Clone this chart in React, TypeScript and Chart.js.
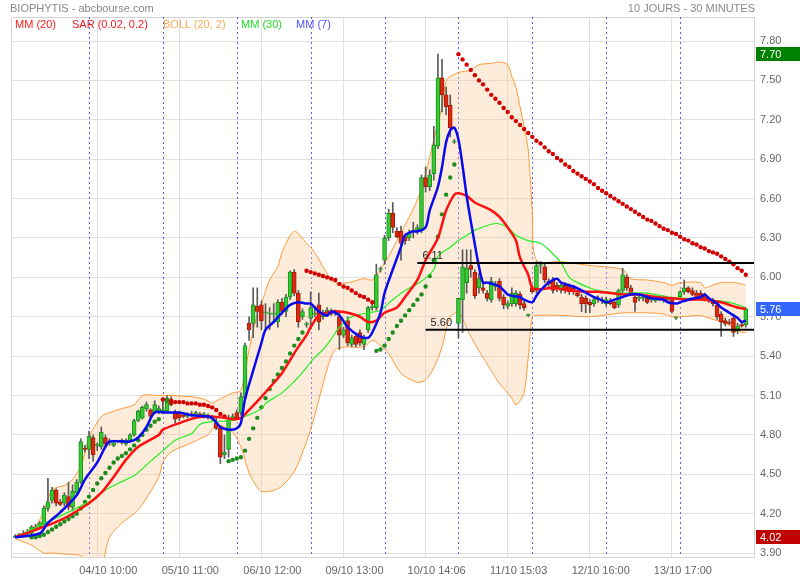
import React, { useEffect, useRef } from 'react';
import { Chart, registerables } from 'chart.js';

Chart.register(...registerables);

const FONT = '"Liberation Sans", Arial, sans-serif';

// ---- candles (bar index = position in arrays, 18 half-hour slots per day) ----
const opens = [
  4.02,4.03,4.04,4.05,4.05,4.10,4.10,4.12,4.24,4.30,4.38,4.29,4.28,4.33,4.25,4.36,4.44,4.70,
  4.69,4.78,4.72,4.71,4.78,4.74,4.72,4.75,4.74,4.73,4.76,4.80,4.91,4.93,5.00,4.99,4.97,4.98,
  4.97,4.98,5.05,4.97,4.97,4.95,4.94,4.95,4.96,4.96,4.95,4.95,4.92,4.89,4.85,4.65,4.69,4.93,
  4.97,4.97,5.08,5.65,5.65,5.78,5.79,5.73,5.72,5.72,5.66,5.81,5.74,5.85,6.04,5.88,5.70,5.64,
  5.69,5.72,5.79,5.70,5.72,5.74,5.73,5.70,5.56,5.67,5.49,5.55,5.58,5.49,5.60,5.77,5.77,6.06,
  6.13,6.30,6.49,6.35,6.35,6.31,6.30,6.35,6.36,6.36,6.76,6.69,6.79,7.00,7.52,7.39,7.31,7.03,
  5.65,5.83,5.96,6.09,6.04,5.92,5.92,5.88,5.83,5.93,5.97,5.85,5.78,5.80,5.80,5.87,5.80,5.71,
  5.92,5.90,6.09,6.08,5.97,5.98,5.94,5.90,5.94,5.93,5.92,5.88,5.85,5.84,5.81,5.80,5.83,5.82,
  5.80,5.82,5.81,5.79,5.90,6.00,5.92,5.85,5.84,5.84,5.84,5.83,5.82,5.85,5.84,5.83,5.83,5.69,
  5.85,5.89,5.92,5.90,5.88,5.88,5.86,5.83,5.82,5.79,5.72,5.67,5.66,5.69,5.59,5.64,5.64,
];
const highs = [
  4.04,4.05,4.07,4.08,4.11,4.12,4.14,4.26,4.47,4.40,4.39,4.31,4.36,4.44,4.42,4.46,4.77,4.72,
  4.83,4.80,4.74,4.86,4.80,4.77,4.76,4.76,4.77,4.77,4.81,4.92,4.99,5.02,5.05,5.00,5.06,5.02,
  5.06,5.10,5.09,4.99,4.98,4.97,4.97,4.98,4.98,4.97,4.97,4.96,4.95,4.93,4.86,4.80,4.95,4.96,
  4.99,5.12,5.50,5.70,5.92,5.92,5.82,5.80,5.77,5.80,5.83,5.84,5.87,6.05,6.06,5.90,5.76,5.66,
  5.89,5.76,5.88,5.75,5.77,5.76,5.75,5.74,5.62,5.70,5.56,5.57,5.60,5.56,5.78,5.80,6.10,6.08,
  6.32,6.52,6.57,6.38,6.39,6.33,6.36,6.42,6.40,6.78,6.84,6.82,7.15,7.70,7.66,7.45,7.39,7.05,
  5.84,6.21,6.21,6.21,6.06,6.03,5.95,5.90,6.00,5.97,5.99,5.87,5.82,5.92,5.90,5.89,5.82,5.72,
  5.94,6.12,6.12,6.10,5.99,6.00,5.96,5.96,5.96,5.95,5.94,5.90,5.87,5.86,5.83,5.85,5.86,5.85,
  5.85,5.84,5.83,5.91,6.07,6.02,5.94,5.88,5.87,5.86,5.86,5.85,5.86,5.86,5.86,5.85,5.85,5.70,
  5.90,5.98,5.93,5.92,5.90,5.90,5.88,5.85,5.84,5.81,5.74,5.69,5.68,5.70,5.65,5.66,5.77,
];
const lows = [
  4.02,4.02,4.03,4.04,4.04,4.08,4.09,4.11,4.22,4.28,4.26,4.26,4.26,4.23,4.22,4.34,4.43,4.67,
  4.62,4.60,4.68,4.69,4.70,4.72,4.71,4.74,4.73,4.72,4.75,4.79,4.90,4.92,4.98,4.92,4.96,4.96,
  4.96,4.97,5.02,4.89,4.91,4.93,4.93,4.94,4.95,4.94,4.93,4.92,4.91,4.84,4.58,4.62,4.63,4.92,
  4.92,4.95,5.06,5.52,5.54,5.62,5.60,5.60,5.60,5.65,5.62,5.72,5.70,5.83,5.86,5.62,5.68,5.62,
  5.61,5.70,5.60,5.68,5.70,5.71,5.71,5.45,5.54,5.48,5.47,5.47,5.48,5.45,5.58,5.75,5.75,6.04,
  6.10,6.28,6.34,6.30,6.13,6.25,6.28,6.30,6.33,6.34,6.65,6.66,6.74,6.98,7.26,7.24,7.07,7.02,
  5.54,5.58,5.88,6.00,5.84,5.88,5.88,5.82,5.81,5.90,5.82,5.76,5.76,5.78,5.78,5.76,5.75,5.70,
  5.88,5.88,6.03,5.96,5.93,5.88,5.89,5.88,5.88,5.87,5.87,5.85,5.74,5.73,5.73,5.78,5.81,5.80,
  5.78,5.79,5.76,5.77,5.88,5.90,5.86,5.74,5.82,5.82,5.80,5.81,5.81,5.82,5.81,5.81,5.73,5.68,
  5.83,5.87,5.88,5.86,5.83,5.83,5.82,5.81,5.78,5.68,5.55,5.63,5.64,5.55,5.57,5.62,5.62,
];
const closes = [
  4.03,4.04,4.05,4.06,4.10,4.09,4.13,4.24,4.29,4.38,4.28,4.27,4.34,4.25,4.37,4.44,4.75,4.69,
  4.79,4.65,4.73,4.82,4.73,4.75,4.74,4.75,4.76,4.76,4.80,4.91,4.98,5.01,5.03,4.94,5.03,5.00,
  4.99,5.08,5.03,4.92,4.93,4.94,4.96,4.96,4.97,4.95,4.96,4.93,4.93,4.85,4.63,4.67,4.91,4.94,
  4.93,5.09,5.48,5.60,5.79,5.74,5.67,5.73,5.72,5.72,5.81,5.74,5.85,6.04,5.88,5.66,5.74,5.64,
  5.77,5.72,5.66,5.73,5.75,5.72,5.73,5.56,5.60,5.50,5.54,5.49,5.50,5.54,5.77,5.77,6.02,6.06,
  6.30,6.49,6.38,6.31,6.26,6.28,6.34,6.35,6.38,6.76,6.69,6.78,7.01,7.52,7.39,7.30,7.14,7.03,
  5.84,6.08,6.07,6.06,5.86,5.99,5.90,5.84,5.97,5.95,5.84,5.79,5.80,5.88,5.88,5.79,5.77,5.71,
  5.89,6.09,6.09,5.98,5.95,5.90,5.91,5.94,5.90,5.89,5.89,5.86,5.80,5.80,5.79,5.83,5.84,5.83,
  5.83,5.80,5.77,5.90,6.02,5.92,5.88,5.81,5.85,5.84,5.81,5.84,5.85,5.83,5.82,5.83,5.74,5.69,
  5.89,5.92,5.89,5.87,5.84,5.84,5.83,5.83,5.80,5.70,5.66,5.65,5.65,5.58,5.63,5.63,5.76,
];

// ---- moving averages (bar index, value) ----
const mm7Idx = [0,6,8,11,15,17,20,22,23,28,30,32,34,37,40,43,47,48,50,52,54,55,56,58,60,61,63,65,67,69,71,72,74,76,77,79,81,84,86,87,89,90,92,94,95,97,98,100,101,103,104,105,106,107,108,109,110,111,112,113,114,115,118,120,121,123,124,126,127,128,130,132,133,136,138,141,142,144,146,148,150,152,154,155,158,159,161,162,164,167,168,169,171,172,174,176,177,178];
const mm7Values = [4.02,4.05,4.13,4.21,4.34,4.46,4.59,4.71,4.75,4.75,4.78,4.86,4.97,4.97,4.97,4.95,4.94,4.93,4.86,4.84,4.85,4.89,5.07,5.29,5.50,5.60,5.66,5.73,5.79,5.81,5.80,5.80,5.74,5.71,5.74,5.71,5.62,5.55,5.54,5.58,5.73,5.88,6.06,6.23,6.32,6.35,6.35,6.38,6.51,6.69,6.84,7.03,7.12,7.14,7.05,6.85,6.62,6.43,6.25,6.08,5.96,5.96,5.93,5.87,5.86,5.85,5.83,5.81,5.86,5.90,5.96,5.99,5.96,5.93,5.90,5.85,5.84,5.81,5.83,5.85,5.87,5.87,5.85,5.84,5.83,5.81,5.80,5.81,5.83,5.85,5.87,5.84,5.80,5.77,5.73,5.69,5.66,5.67];

const mm20Idx = [0,11,18,21,24,27,30,35,36,40,44,47,51,53,55,57,60,62,65,67,69,71,72,74,77,79,81,84,86,88,90,93,95,98,100,103,105,107,108,110,112,116,118,120,122,123,125,126,128,131,135,139,142,148,152,156,160,164,168,172,176,178];
const mm20Values = [4.02,4.15,4.28,4.36,4.48,4.61,4.71,4.80,4.84,4.89,4.93,4.94,4.93,4.92,4.93,4.99,5.09,5.16,5.27,5.37,5.47,5.56,5.62,5.71,5.74,5.74,5.73,5.70,5.66,5.67,5.73,5.77,5.85,5.98,6.13,6.30,6.51,6.63,6.64,6.62,6.57,6.51,6.46,6.38,6.28,6.15,6.02,5.92,5.91,5.92,5.90,5.89,5.89,5.87,5.87,5.85,5.84,5.83,5.83,5.81,5.77,5.76];

const mm30Idx = [0,18,21,25,29,33,36,39,43,45,48,53,56,60,61,65,69,73,75,77,79,82,86,89,92,95,99,102,103,106,108,111,112,117,120,122,125,128,130,133,135,137,140,142,148,154,159,164,169,174,178];
const mm30Values = [4.02,4.29,4.36,4.43,4.49,4.60,4.68,4.76,4.81,4.88,4.90,4.91,4.94,5.00,5.04,5.12,5.24,5.39,5.45,5.53,5.62,5.70,5.73,5.75,5.83,5.90,5.97,6.06,6.16,6.23,6.28,6.34,6.36,6.41,6.38,6.32,6.28,6.26,6.21,6.11,6.00,5.96,5.92,5.90,5.88,5.88,5.85,5.84,5.83,5.81,5.77];

// ---- Bollinger (20, 2) ----
const bollIdx = [0,4,7,9,13,16,18,21,23,26,29,31,35,36,38,43,45,47,48,49,51,53,55,57,59,60,62,64,65,68,71,73,76,78,81,85,87,89,91,94,98,100,102,104,105,106,108,111,113,116,118,120,121,122,123,124,125,126,127,133,140,148,150,154,158,160,162,167,168,169,172,175,177,178];
const bollUpper = [4.03,4.06,4.22,4.38,4.43,4.56,4.78,4.94,4.97,5.00,5.03,5.10,5.10,5.10,5.10,5.09,5.08,5.06,5.04,5.06,5.09,5.12,5.14,5.45,5.72,5.80,5.98,6.08,6.19,6.35,6.26,6.19,6.03,5.96,5.96,5.99,5.98,6.06,6.16,6.34,6.59,6.79,7.05,7.30,7.50,7.53,7.56,7.58,7.62,7.63,7.64,7.62,7.53,7.45,7.30,7.15,6.97,6.50,6.13,6.12,6.09,6.06,5.99,5.98,5.96,5.94,5.96,5.96,5.92,5.93,5.96,5.96,5.95,5.94];
const bollLower = [4.01,3.96,3.90,3.90,3.89,3.88,3.82,3.82,4.02,4.13,4.20,4.27,4.48,4.59,4.67,4.74,4.77,4.80,4.84,4.88,4.86,4.82,4.71,4.51,4.40,4.37,4.37,4.39,4.41,4.52,4.75,4.95,5.30,5.45,5.47,5.47,5.52,5.48,5.42,5.27,5.20,5.22,5.31,5.47,5.60,5.70,5.73,5.55,5.44,5.29,5.19,5.12,5.08,5.03,5.06,5.12,5.39,5.70,5.71,5.71,5.70,5.73,5.73,5.73,5.72,5.70,5.70,5.71,5.70,5.69,5.66,5.62,5.58,5.58];

// ---- SAR (0.02, 0.2), one dot per bar from sarStart ----
const sarStart = 4;
const sarValues = [
  4.02,4.02,4.03,4.04,4.06,4.08,4.10,4.12,4.14,4.16,4.18,4.20,4.24,4.29,4.33,4.38,4.43,4.47,4.51,4.55,4.59,4.62,4.64,4.66,4.69,4.72,4.76,4.80,4.84,4.87,4.90,4.92,
  5.07,5.06,5.06,5.05,5.05,5.05,5.04,5.04,5.04,5.03,5.03,5.02,5.01,4.99,4.96,4.94,
  4.60,4.61,4.62,4.63,4.68,4.77,4.85,4.93,5.01,5.08,5.15,5.21,5.26,5.31,5.36,5.42,5.48,5.53,5.58,
  6.05,6.04,6.03,6.02,6.01,6.00,5.99,5.98,5.95,5.93,5.92,5.90,5.88,5.86,5.85,5.83,5.81,
  5.44,5.45,5.48,5.53,5.58,5.63,5.67,5.71,5.75,5.79,5.83,5.87,5.93,6.01,6.13,6.31,6.48,6.63,6.76,6.86,
  7.70,7.66,7.62,7.58,7.54,7.50,7.47,7.43,7.39,7.36,7.33,7.29,7.26,7.22,7.19,7.16,7.13,7.10,7.07,7.04,7.02,6.99,6.96,6.94,6.91,6.89,6.86,6.84,6.81,6.79,6.77,6.75,6.73,6.71,6.68,
  6.66,6.64,6.62,6.60,6.58,6.56,6.54,6.52,6.50,6.48,6.46,6.44,6.43,6.41,6.39,6.37,6.36,6.34,6.33,6.31,6.29,6.28,6.26,6.25,6.23,6.22,6.20,6.19,6.18,6.16,6.14,6.12,6.10,6.07,6.05,6.02,
];

// ---- axis / annotations ----
const yTickValues = [3.9,4.2,4.5,4.8,5.1,5.4,5.7,6.0,6.3,6.6,6.9,7.2,7.5,7.8];
const xTickPositions = [20,40,60,80,100,120,140,160];
const xTickLabels = ['04/10 10:00','05/10 11:00','06/10 12:00','09/10 13:00','10/10 14:06','11/10 15:03','12/10 16:00','13/10 17:00'];
const daySeparators = [18,36,54,72,90,108,126,144,162];
const hlineValues = [6.11, 5.60];
const hlineStarts = [98, 100];
const badgeValues = [7.70, 5.76, 4.02];
const badgeColors = ['#008000', '#3366ff', '#c00000'];

const legendItems = [
  { text: 'MM (20)', color: '#ff1a1a', left: 15 },
  { text: 'SAR (0.02, 0.2)', color: '#ee1c1c', left: 72 },
  { text: 'BOLL (20, 2)', color: '#ffaa55', left: 163 },
  { text: 'MM (30)', color: '#22dd22', left: 241 },
  { text: 'MM (7)', color: '#5050ff', left: 296 },
];

const pts = (idx: number[], vals: number[]) => idx.map((k, i) => ({ x: k, y: vals[i] }));

const overlayPlugin = {
  id: 'overlay',
  beforeDatasetsDraw(chart: any) {
    const { ctx, chartArea, scales } = chart;
    const { left, right, top, bottom } = chartArea;
    ctx.save();
    ctx.strokeStyle = '#d4d4d4';
    ctx.lineWidth = 1;
    ctx.beginPath();
    ctx.moveTo(left + 0.5, bottom);
    ctx.lineTo(left + 0.5, top + 0.5);
    ctx.lineTo(right, top + 0.5);
    ctx.stroke();
    ctx.strokeStyle = '#5b5bff';
    ctx.setLineDash([2, 3]);
    daySeparators.forEach((k) => {
      const px = Math.round(scales.x.getPixelForValue(k)) + 0.5;
      ctx.beginPath();
      ctx.moveTo(px, top);
      ctx.lineTo(px, bottom);
      ctx.stroke();
    });
    ctx.restore();
  },
  afterDraw(chart: any) {
    const { ctx, scales } = chart;
    ctx.save();
    ctx.font = `11px ${FONT}`;
    ctx.fillStyle = '#222';
    ctx.textBaseline = 'bottom';
    ctx.textAlign = 'left';
    hlineValues.forEach((v, i) => {
      const px = scales.x.getPixelForValue(hlineStarts[i]);
      const py = scales.y.getPixelForValue(v);
      ctx.fillText(v.toFixed(2), px + 5, py - 1);
    });
    ctx.textBaseline = 'middle';
    badgeValues.forEach((v, i) => {
      const py = Math.round(scales.y.getPixelForValue(v));
      ctx.fillStyle = badgeColors[i];
      ctx.fillRect(756, py - 7, 44, 14);
      ctx.fillStyle = '#ffffff';
      ctx.fillText(v.toFixed(2), 760, py + 0.5);
    });
    ctx.restore();
  },
};

export default function App() {
  const ref = useRef<HTMLCanvasElement>(null);

  useEffect(() => {
    if (!ref.current) return;
    const idx = closes.map((_, i) => i);
    const up = idx.map((i) => closes[i] >= opens[i]);
    const sarPts = sarValues.map((v, i) => ({ x: sarStart + i, y: v }));
    const sarColors = sarValues.map((v, i) => (v < closes[sarStart + i] ? '#1e8c1e' : '#d00000'));

    const chart = new Chart(ref.current, {
      type: 'bar',
      data: {
        datasets: [
          {
            type: 'line',
            label: 'bollUp',
            data: pts(bollIdx, bollUpper),
            borderColor: '#ff9a3a',
            borderWidth: 1,
            pointRadius: 0,
            tension: 0.3,
            fill: '+1',
            backgroundColor: 'rgba(250,200,150,0.35)',
            order: 20,
          },
          {
            type: 'line',
            label: 'bollLow',
            data: pts(bollIdx, bollLower),
            borderColor: '#ff9a3a',
            borderWidth: 1,
            pointRadius: 0,
            tension: 0.3,
            fill: false,
            order: 19,
          },
          {
            type: 'bar',
            label: 'wicks',
            data: idx.map((i) => ({ x: i, y: [lows[i], highs[i]] })),
            backgroundColor: '#5a5a5a',
            barThickness: 1,
            grouped: false,
            order: 15,
          },
          {
            type: 'bar',
            label: 'bodies',
            data: idx.map((i) => ({ x: i, y: [opens[i], closes[i]] })),
            backgroundColor: up.map((u) => (u ? '#33cc33' : '#e0280e')),
            borderColor: up.map((u) => (u ? '#1f8f1f' : '#a51a08')),
            borderWidth: 1,
            borderSkipped: false,
            barThickness: 4,
            minBarLength: 1,
            grouped: false,
            order: 14,
          },
          {
            type: 'line',
            label: 'sar',
            data: sarPts,
            showLine: false,
            pointRadius: 2.2,
            pointBorderWidth: 0,
            pointBackgroundColor: sarColors,
            pointBorderColor: sarColors,
            order: 13,
          },
          {
            type: 'line',
            label: 'mm30',
            data: pts(mm30Idx, mm30Values),
            borderColor: '#22ee22',
            borderWidth: 1.2,
            pointRadius: 0,
            tension: 0.3,
            fill: false,
            order: 12,
          },
          {
            type: 'line',
            label: 'mm20',
            data: pts(mm20Idx, mm20Values),
            borderColor: '#ff1010',
            borderWidth: 2.5,
            pointRadius: 0,
            tension: 0.3,
            fill: false,
            order: 11,
          },
          {
            type: 'line',
            label: 'mm7',
            data: pts(mm7Idx, mm7Values),
            borderColor: '#0a0aee',
            borderWidth: 2.5,
            pointRadius: 0,
            tension: 0.3,
            fill: false,
            order: 10,
          },
          ...hlineValues.map((v, i) => ({
            type: 'line' as const,
            label: 'hline' + i,
            data: [{ x: hlineStarts[i], y: v }, { x: 180, y: v }],
            borderColor: '#000000',
            borderWidth: 2,
            pointRadius: 0,
            fill: false,
            order: 5,
          })),
        ],
      } as any,
      options: {
        responsive: false,
        animation: false,
        devicePixelRatio: 1,
        events: [],
        layout: { padding: { left: 11, top: 17, right: 0, bottom: 0 } },
        plugins: { legend: { display: false }, tooltip: { enabled: false }, title: { display: false } },
        scales: {
          x: {
            type: 'linear',
            min: -1,
            max: 180,
            offset: false,
            afterBuildTicks: (s: any) => {
              s.ticks = xTickPositions.map((v) => ({ value: v }));
            },
            afterFit: (s: any) => {
              s.height = 23;
            },
            grid: { color: '#e0e0e0', drawTicks: false, offset: false },
            border: { color: '#d4d4d4' },
            ticks: {
              padding: 7,
              labelOffset: 11,
              autoSkip: false,
              maxRotation: 0,
              color: '#666',
              font: { size: 11, family: FONT },
              callback: (v: any) => {
                const j = xTickPositions.indexOf(Number(v));
                return j >= 0 ? xTickLabels[j] : '';
              },
            },
          },
          y: {
            type: 'linear',
            position: 'right',
            min: 3.87,
            max: 7.983,
            afterBuildTicks: (s: any) => {
              s.ticks = yTickValues.map((v) => ({ value: v }));
            },
            afterFit: (s: any) => {
              s.width = 46;
            },
            grid: { color: '#e0e0e0', drawTicks: false },
            border: { color: '#d4d4d4' },
            ticks: {
              padding: 6,
              color: '#666',
              font: { size: 11, family: FONT },
              callback: (v: any) => Number(v).toFixed(2),
            },
          },
        },
      } as any,
      plugins: [overlayPlugin],
    });
    return () => chart.destroy();
  }, []);

  return (
    <div style={{ position: 'absolute', left: 0, top: 0, width: 800, height: 580, background: '#fff', fontFamily: FONT }}>
      <canvas ref={ref} width={800} height={580} style={{ position: 'absolute', left: 0, top: 0, width: 800, height: 580 }} />
      <div style={{ position: 'absolute', left: 10, top: 2, fontSize: 11, lineHeight: '13px', color: '#888', whiteSpace: 'nowrap' }}>
        BIOPHYTIS - abcbourse.com
      </div>
      <div style={{ position: 'absolute', right: 45, top: 2, fontSize: 11, lineHeight: '13px', color: '#888', whiteSpace: 'nowrap' }}>
        10 JOURS - 30 MINUTES
      </div>
      {legendItems.map((it) => (
        <div key={it.text} style={{ position: 'absolute', left: it.left, top: 18, fontSize: 11, lineHeight: '13px', color: it.color, whiteSpace: 'nowrap' }}>
          {it.text}
        </div>
      ))}
    </div>
  );
}
